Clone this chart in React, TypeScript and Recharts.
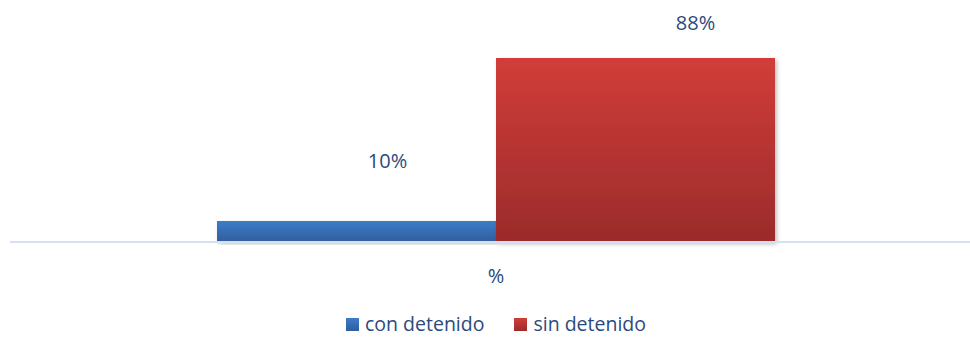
import { Bar, BarChart, LabelList, Legend, XAxis, YAxis } from "recharts";

const categories = ["%"];
const conDetenido = [10];
const sinDetenido = [88];
const seriesNames = ["con detenido", "sin detenido"];

const data = categories.map((c, i) => ({
  name: c,
  con: conDetenido[i],
  sin: sinDetenido[i],
}));

const TEXT = "#2b4a7c";
const FONT = "'Open Sans', 'Noto Sans', sans-serif";

function OffsetLabel(props: any) {
  const { x, y, width, value, dx, dy } = props;
  return (
    <text
      x={x + width / 2 + dx}
      y={y + dy}
      textAnchor="middle"
      dominantBaseline="central"
      fill={TEXT}
      fontSize={20}
      fontFamily={FONT}
    >
      {value}%
    </text>
  );
}

function ChartLegend() {
  const items = [
    { name: seriesNames[0], top: "#3d7cc9", bottom: "#2e5e9e" },
    { name: seriesNames[1], top: "#d13d39", bottom: "#9c2b2b" },
  ];
  return (
    <div
      style={{
        display: "flex",
        justifyContent: "center",
        gap: 30,
        fontFamily: FONT,
        fontSize: 19.5,
        color: TEXT,
        paddingLeft: 12,
        lineHeight: "24px",
        height: 24,
      }}
    >
      {items.map((it) => (
        <div key={it.name} style={{ display: "flex", alignItems: "center", gap: 6 }}>
          <span
            style={{
              width: 13,
              height: 13,
              display: "inline-block",
              background: `linear-gradient(${it.top}, ${it.bottom})`,
            }}
          />
          <span>{it.name}</span>
        </div>
      ))}
    </div>
  );
}

export default function App() {
  return (
    <div style={{ width: 970, height: 337, background: "#fff", overflow: "hidden" }}>
      <style>{`body{margin:0}`}</style>
      <BarChart
        width={970}
        height={337}
        data={data}
        margin={{ top: 33, right: 0, left: 10, bottom: 0 }}
        barGap={0}
      >
        <defs>
          <linearGradient id="g-blue" x1="0" x2="0" y1="0" y2="1">
            <stop offset="0%" stopColor="#3d7cc9" />
            <stop offset="100%" stopColor="#2f5e9c" />
          </linearGradient>
          <linearGradient id="g-red" x1="0" x2="0" y1="0" y2="1">
            <stop offset="0%" stopColor="#d13d39" />
            <stop offset="100%" stopColor="#9b2b2b" />
          </linearGradient>
          <filter id="shadow" x="-5%" y="-5%" width="115%" height="115%">
            <feDropShadow dx="2" dy="2" stdDeviation="2" floodColor="#000" floodOpacity="0.25" />
          </filter>
        </defs>
        <XAxis
          dataKey="name"
          padding={{ left: 12, right: 0 }}
          axisLine={{ stroke: "#d5e0f2", strokeWidth: 2 }}
          tickLine={false}
          height={71}
          tick={{ fill: TEXT, fontSize: 20, fontFamily: FONT, dy: 19 }}
        />
        <YAxis hide domain={[0, 100]} />
        <Legend
          verticalAlign="bottom"
          height={24}
          content={<ChartLegend />}
          wrapperStyle={{ top: 312, bottom: "auto" }}
        />
        <Bar
          dataKey="con"
          name={seriesNames[0]}
          fill="url(#g-blue)"
          barSize={279}
          filter="url(#shadow)"
          isAnimationActive={false}
        >
          <LabelList dataKey="con" content={<OffsetLabel dx={31} dy={-61} />} />
        </Bar>
        <Bar
          dataKey="sin"
          name={seriesNames[1]}
          fill="url(#g-red)"
          barSize={279}
          filter="url(#shadow)"
          isAnimationActive={false}
        >
          <LabelList dataKey="sin" content={<OffsetLabel dx={60} dy={-36} />} />
        </Bar>
      </BarChart>
    </div>
  );
}
